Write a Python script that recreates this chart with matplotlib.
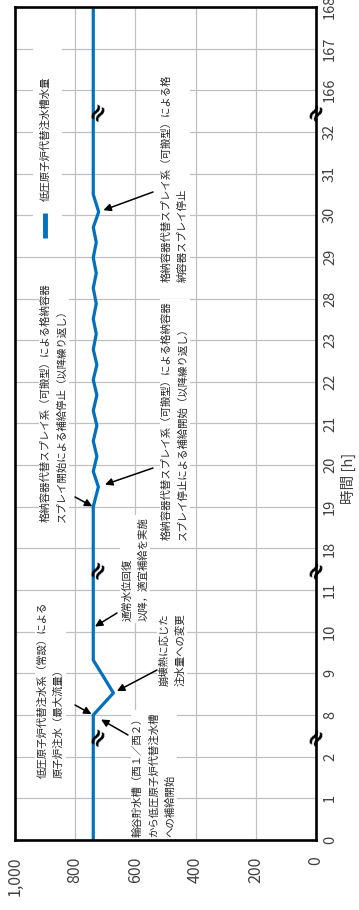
import numpy as np
import matplotlib
matplotlib.use('Agg')
import matplotlib.pyplot as plt
from matplotlib.patches import Rectangle

plt.rcParams['font.family'] = ['Noto Sans CJK JP', 'DejaVu Sans']

# ---------------- data ----------------
tick_hours = [0, 1, 2, 8, 9, 10, 11, 18, 19, 20, 21, 22, 23, 28, 29, 30, 31, 32, 166, 167, 168]
tick_labels = [str(h) for h in tick_hours]
level_ticks = [0, 200, 400, 600, 800, 1000]
level_tick_labels = ['0', '200', '400', '600', '800', '1,000']
series_name = '低圧原子炉代替注水槽水量'
x_label = '時間 [h]'

hours = [0, 8, 8.53, 9.32, 19, 19.48, 19.85, 20.21, 20.58, 20.95, 21.31, 21.68, 22.05,
         22.41, 22.78, 23.75, 25.55, 27.4, 28.25, 28.61, 28.98, 29.35, 29.71, 30.08, 30.5, 168]
level = [740, 740, 673, 740, 740, 723, 740, 728, 740, 728, 740, 728, 740,
         728, 740, 730, 740, 730, 740, 730, 740, 730, 740, 722, 740, 740]

break_gaps = [(2, 8), (11, 18), (32, 166)]

# annotations: text, text anchor (ref px), arrow tail (ref px), arrow head (hour, level), shrink px
annotations = [
    ('低圧原子炉代替注水系（常設）による\n原子炉注水（最大流量）', (37, 778), (75, 705), (8, 740), 2),
    ('輪谷貯水槽（西１／西２）\nから低圧原子炉代替注水槽\nへの補給開始', (133, 837), (128, 735), (8, 740), 9),
    ('崩壊熱に応じた\n注水量への変更', (159, 686), (157, 670), (8.53, 673), 4),
    ('通常水位回復\n以降，適宜補給を実施', (122, 621), (117, 613), (10.1, 740), 2),
    ('格納容器代替スプレイ系（可搬型）による格納容器\nスプレイ開始による補給停止（以降繰り返し）', (41, 522), (75, 497), (19, 740), 1),
    ('格納容器代替スプレイ系（可搬型）による格納容器\nスプレイ停止による補給開始（以降繰り返し）', (162, 540), (153, 468), (19.48, 723), 7),
    ('格納容器代替スプレイ系（可搬型）による格\n納容器スプレイ停止', (162, 282), (153, 192), (30.08, 722), 5),
]

# ---------------- layout ----------------
W, H = 359, 910
L, R, T, B = 15, 316, 7, 840
fig = plt.figure(figsize=(W / 100, H / 100), dpi=100)
ax = fig.add_axes([L / W, (H - B) / H, (R - L) / W, (B - T) / H])

def px(x, y):
    return ((x - L) / (R - L), (B - y) / (B - T))

idx = np.arange(len(tick_hours))
def to_idx(h):
    return np.interp(h, tick_hours, idx)

ax.set_xlim(1000, 0)
ax.set_ylim(0, len(tick_hours) - 1)
ax.plot(level, to_idx(hours), color='#0070C0', lw=2.3, zorder=5, solid_joinstyle='round')

ax.set_xticks(level_ticks)
ax.set_xticklabels(level_tick_labels, rotation=90, fontsize=11.5)
ax.yaxis.tick_right()
ax.set_yticks(idx)
ax.set_yticklabels(tick_labels, rotation=90, va='center', ha='left', fontsize=10.5)
ax.tick_params(axis='x', length=0, pad=12, colors='#404040')
ax.tick_params(axis='y', length=0, pad=5, colors='#404040')
ax.grid(True, color='#c0c0c0', lw=0.9)
ax.set_axisbelow(True)
for s in ax.spines.values():
    s.set_linewidth(1.9)
    s.set_color('black')
    s.set_zorder(10)

# x label
xl, yl = px(348, 478)
ax.text(xl, yl, x_label, transform=ax.transAxes, rotation=90, ha='center', va='center',
        fontsize=10.5, color='#404040', clip_on=False)

# legend (manual, rotated)
ax.add_patch(Rectangle(px(33, 250), 29 / (R - L), 210 / (B - T), transform=ax.transAxes,
                       facecolor='white', edgecolor='none', zorder=3))
lx0, ly0 = px(45, 238)
lx1, ly1 = px(45, 213)
ax.plot([lx0, lx1], [ly0, ly1], transform=ax.transAxes, color='#0070C0', lw=3.5, zorder=4,
        solid_capstyle='butt')
tx, ty = px(45, 201)
ax.text(tx, ty, series_name, transform=ax.transAxes, rotation=90, ha='center', va='bottom',
        fontsize=7.5, color='#262626', zorder=4)

# annotations
for text, anchor, tail, head, shrink in annotations:
    ax_, ay_ = px(*anchor)
    ax.text(ax_, ay_, text, transform=ax.transAxes, rotation=90, ha='left', va='bottom',
            multialignment='left', fontsize=7.5, color='#262626', linespacing=1.7,
            bbox=dict(facecolor='white', edgecolor='none', pad=1.5), zorder=4)
    ax.annotate('', xy=(head[1], to_idx(head[0])), xycoords='data',
                xytext=px(*tail), textcoords='axes fraction',
                arrowprops=dict(arrowstyle='-|>', color='black', lw=1.1, mutation_scale=11,
                                shrinkA=0, shrinkB=shrink * 0.72),
                zorder=6)

# break marks
for a, b in break_gaps:
    yi = (to_idx(a) + to_idx(b)) / 2
    for xv in (np.interp(yi, to_idx(hours), level) - 15, 0):
        ax.text(xv, yi, '≈', rotation=60, ha='center', va='center', fontsize=17,
                fontweight='bold', family='DejaVu Sans', color='black', zorder=11, clip_on=False)

fig.savefig('out.png', dpi=100)
